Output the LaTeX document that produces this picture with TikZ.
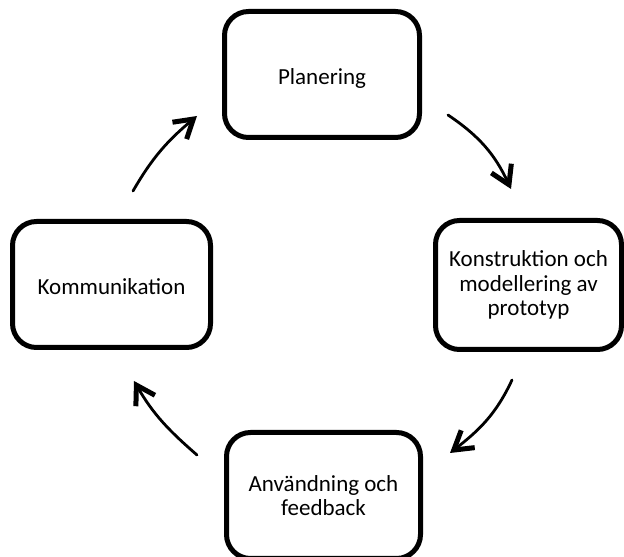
\documentclass[tikz,border=0pt]{standalone}
\usepackage{fontspec}
\setmainfont{Carlito}
\usetikzlibrary{arrows.meta}
\begin{document}
\begin{tikzpicture}[x=1pt,y=1pt,
  stage/.style={draw=black, line width=5pt, rounded corners=24pt, fill=white,
    minimum height=126pt, inner sep=0pt, align=center,
    font=\fontsize{23}{24.5}\selectfont},
  lowered/.style={text height=22pt, text depth=2pt},
  flow/.style={line width=2.8pt, line cap=round,
    -{Straight Barb[length=18pt, width=22pt, line width=5pt]}}]
  \clip (0,0) rectangle (624,557);
  \fill[white] (0,0) rectangle (624,557);

  % the four stages of the cycle
  \node[stage, lowered, minimum width=195pt] (plan) at (322,482.5) {Planering};
  \node[stage, minimum width=186pt, minimum height=129pt] (konst) at (528.5,272) {Konstruktion och\\modellering av\\prototyp};
  \node[stage, minimum width=194pt] (anv) at (323.5,61.5) {Användning och\\feedback};
  \node[stage, lowered, minimum width=198pt] (komm) at (111.5,272.5) {Kommunikation};

  % free-floating ends of the cycle arrows
  \coordinate (f1s) at (448,442);
  \coordinate (f1e) at (511,368);
  \coordinate (f2s) at (512,177);
  \coordinate (f2e) at (450,104);
  \coordinate (f3s) at (197,102);
  \coordinate (f3e) at (134,176);
  \coordinate (f4s) at (133,366);
  \coordinate (f4e) at (197,441);

  \draw[flow] (f1s) to[out=-34, in=115] (f1e);
  \draw[flow] (f2s) to[out=-115, in=38] (f2e);
  \draw[flow] (f3s) to[out=139, in=-60] (f3e);
  \draw[flow] (f4s) to[out=60, in=220] (f4e);
\end{tikzpicture}
\end{document}
